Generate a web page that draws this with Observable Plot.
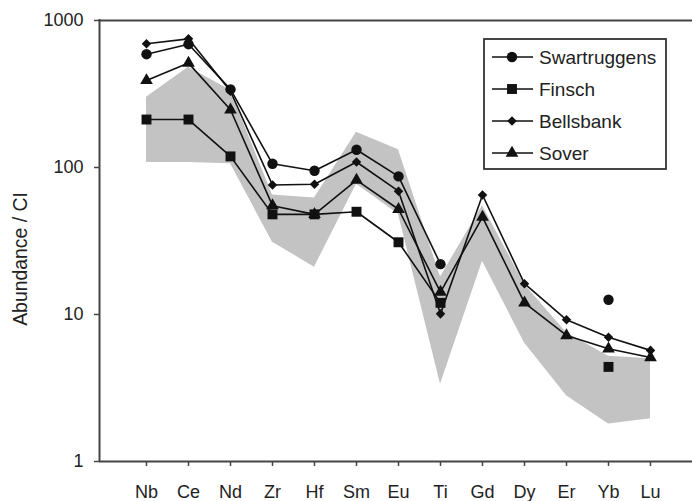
<!DOCTYPE html>
<html>
<head>
<meta charset="utf-8">
<script src="https://cdn.jsdelivr.net/npm/d3@7"></script>
<script src="https://cdn.jsdelivr.net/npm/@observablehq/plot@0.6"></script>
<style>
  html, body { margin: 0; padding: 0; background: #fff; }
  #chart { width: 692px; height: 501px; overflow: hidden; }
</style>
</head>
<body>
<div id="chart"></div>
<script>
// ---- data ----
const elements = ["Nb","Ce","Nd","Zr","Hf","Sm","Eu","Ti","Gd","Dy","Er","Yb","Lu"];
const swartruggens = [590, 690, 340, 106, 95, 132, 87, 22, NaN, NaN, NaN, 12.6, NaN];
const finsch       = [212, 212, 119, 48, 48, 50, 31, 12, NaN, NaN, NaN, 4.4, NaN];
const bellsbank    = [694, 750, 330, 76, 77, 109, 69, 10.1, 65, 16.2, 9.2, 7.0, 5.7];
const sover        = [391, 513, 247, 55, 48, 82, 52, 14.2, 46, 12.0, 7.2, 5.85, 5.1];
const bandUpper    = [300, 480, 335, 65, 62, 174, 132, 18, 55, 16, 7.5, 5.2, 5.0];
const bandLower    = [108, 108, 106, 31, 21, 77, 48, 3.35, 23, 6.4, 2.8, 1.8, 1.95];
const seriesNames  = ["Swartruggens", "Finsch", "Bellsbank", "Sover"];
const yTicks       = [1, 10, 100, 1000];
const yLabel       = "Abundance / CI";

// ---- build tables ----
const seriesValues = {Swartruggens: swartruggens, Finsch: finsch, Bellsbank: bellsbank, Sover: sover};
const symbols = {Swartruggens: "circle", Finsch: "square", Bellsbank: "diamond2", Sover: "triangle"};
const radii = {Swartruggens: 5.2, Finsch: 5.6, Bellsbank: 4.3, Sover: 4.7};
const rows = seriesNames.flatMap(s => elements.map((e, i) => ({series: s, element: e, value: seriesValues[s][i]})));
const band = elements.map((e, i) => ({element: e, lower: bandLower[i], upper: bandUpper[i]}));

const ink = "#111";
const axisInk = "#444";
const font = "'Liberation Sans', Arial, Helvetica, sans-serif";
const drawOrder = ["Bellsbank", "Sover", "Swartruggens", "Finsch"];

const chart = Plot.plot({
  width: 692,
  height: 501,
  marginTop: 20,
  marginBottom: 40,
  marginLeft: 99,
  marginRight: 0,
  style: {fontFamily: font, background: "#fff", color: "#222"},
  x: {type: "point", domain: elements, range: [143, 653], padding: 0},
  y: {type: "log", domain: [1, 1000]},
  marks: [
    Plot.areaY(band, {x: "element", y1: "lower", y2: "upper", fill: "#c3c3c3"}),
    Plot.line(rows, {x: "element", y: "value", z: "series", stroke: ink, strokeWidth: 1.6}),
    ...drawOrder.map(s => Plot.dot(rows.filter(d => d.series === s), {
      x: "element", y: "value", symbol: () => symbols[s], r: radii[s], fill: ink, stroke: "none"
    })),
    Plot.ruleY([1000], {stroke: axisInk, strokeWidth: 2}),
    Plot.ruleY([1], {stroke: axisInk, strokeWidth: 2}),
    Plot.axisY({ticks: yTicks, tickFormat: d => String(d), tickSize: 5, tickPadding: 11,
      fontSize: 18, label: null, stroke: axisInk, strokeWidth: 1.5}),
    Plot.axisX({tickSize: 5, tickPadding: 19, fontSize: 18, label: null, stroke: axisInk, strokeWidth: 1.5}),
    Plot.text([yLabel], {text: d => d, frameAnchor: "left", textAnchor: "middle", rotate: -90,
      dx: -79, dy: 18, fontSize: 19.4, fill: "#222"})
  ]
});
document.getElementById("chart").appendChild(chart);

// ---- left axis line (spans the y scale) ----
const svg = d3.select(chart);
const ys = chart.scale("y");
svg.append("line")
  .attr("x1", 99.5).attr("x2", 99.5)
  .attr("y1", ys.apply(1000) - 1).attr("y2", ys.apply(1) + 1)
  .attr("stroke", axisInk).attr("stroke-width", 2);

// ---- legend (inside the plot, top right) ----
const lg = svg.append("g").attr("transform", "translate(484,39)");
lg.append("rect").attr("width", 182).attr("height", 130)
  .attr("fill", "#fff").attr("stroke", "#333").attr("stroke-width", 1.8);
const d3sym = {circle: d3.symbolCircle, square: d3.symbolSquare, diamond2: d3.symbolDiamond2, triangle: d3.symbolTriangle};
seriesNames.forEach((s, i) => {
  const y = 18 + i * 32;
  const g = lg.append("g").attr("transform", `translate(0,${y})`);
  g.append("line").attr("x1", 8).attr("x2", 49).attr("y1", 0).attr("y2", 0)
    .attr("stroke", ink).attr("stroke-width", 1.6);
  g.append("path").attr("transform", "translate(28,0)")
    .attr("d", d3.symbol(d3sym[symbols[s]], Math.PI * radii[s] * radii[s])())
    .attr("fill", ink);
  g.append("text").attr("x", 55).attr("y", 0).attr("dy", "0.35em")
    .attr("text-anchor", "start")
    .attr("font-family", font).attr("font-size", 19).attr("fill", "#222").text(s);
});
</script>
</body>
</html>
